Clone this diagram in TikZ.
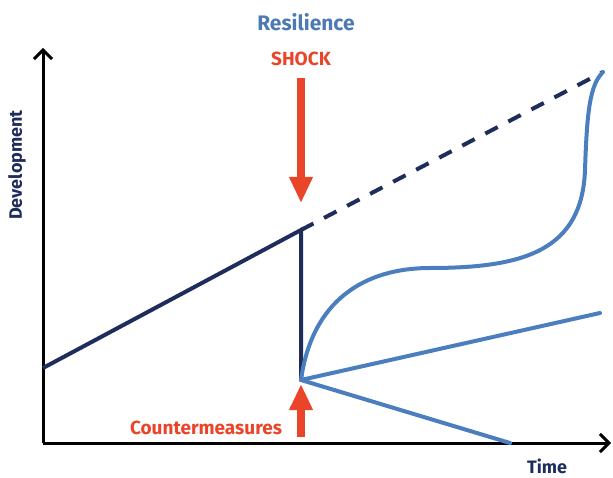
\documentclass[tikz,border=0pt]{standalone}
\usepackage{fontspec}
\setmainfont{Fira Sans}
\usetikzlibrary{arrows.meta}
\definecolor{navy}{HTML}{1F2D5C}
\definecolor{lblue}{HTML}{4A7EBF}
\definecolor{tblue}{HTML}{4D7AB3}
\definecolor{sred}{HTML}{EA4429}
\begin{document}
\begin{tikzpicture}[x=1pt,y=-1pt,
  axis/.style={line width=3pt,black,-{Straight Barb[length=9pt,width=18pt,line width=3pt]}},
  darkline/.style={line width=4pt,navy,line join=miter},
  lightline/.style={line width=4pt,lblue,line cap=round},
  redarrow/.style={line width=8pt,sred,-{Triangle[length=26pt,width=22pt]}},
  lbl/.style={font=\bfseries,inner sep=0pt}]
\useasboundingbox (0,0) rectangle (613,478);
\coordinate (O) at (43,443);
\coordinate (Ytop) at (43,48);
\coordinate (Xend) at (611,443);
\coordinate (A) at (43,368);
\coordinate (B) at (301,230);
\coordinate (C) at (301,380);
\coordinate (D) at (603,72);
\coordinate (E) at (600,313);
\coordinate (F) at (510,443);
\coordinate (S1) at (301,78);
\coordinate (S2) at (301,203);
\coordinate (C1) at (301,437);
\coordinate (C2) at (301,384);
\draw[axis] (O) -- (Ytop);
\draw[axis] (O) -- (Xend);
\draw[darkline] (A) -- (B) -- (C);
\draw[darkline,dash pattern=on 14pt off 12pt] (B) -- (D);
\draw[lightline] (C) .. controls (312,300) and (365,268) .. (430,268)
  .. controls (525,268) and (582,250) .. (585,170)
  .. controls (587,110) and (590,85) .. (D);
\draw[lightline] (C) -- (E);
\draw[lightline] (C) -- (F);
\draw[redarrow] (S1) -- (S2);
\draw[redarrow] (C1) -- (C2);
\node[lbl,text=tblue,font=\fontsize{21}{24}\selectfont\bfseries] (res) at (306,22) {Resilience};
\node[lbl,text=sred,font=\fontsize{19}{22}\selectfont\bfseries] (shock) at (301,59) {SHOCK};
\node[lbl,text=sred,font=\fontsize{19}{22}\selectfont\bfseries] (cm) at (206,428) {Countermeasures};
\node[lbl,text=navy,font=\fontsize{18}{22}\selectfont\bfseries] (time) at (547,466) {Time};
\node[lbl,text=navy,font=\fontsize{18}{22}\selectfont\bfseries,rotate=90] (dev) at (17,165) {Development};
\end{tikzpicture}
\end{document}
